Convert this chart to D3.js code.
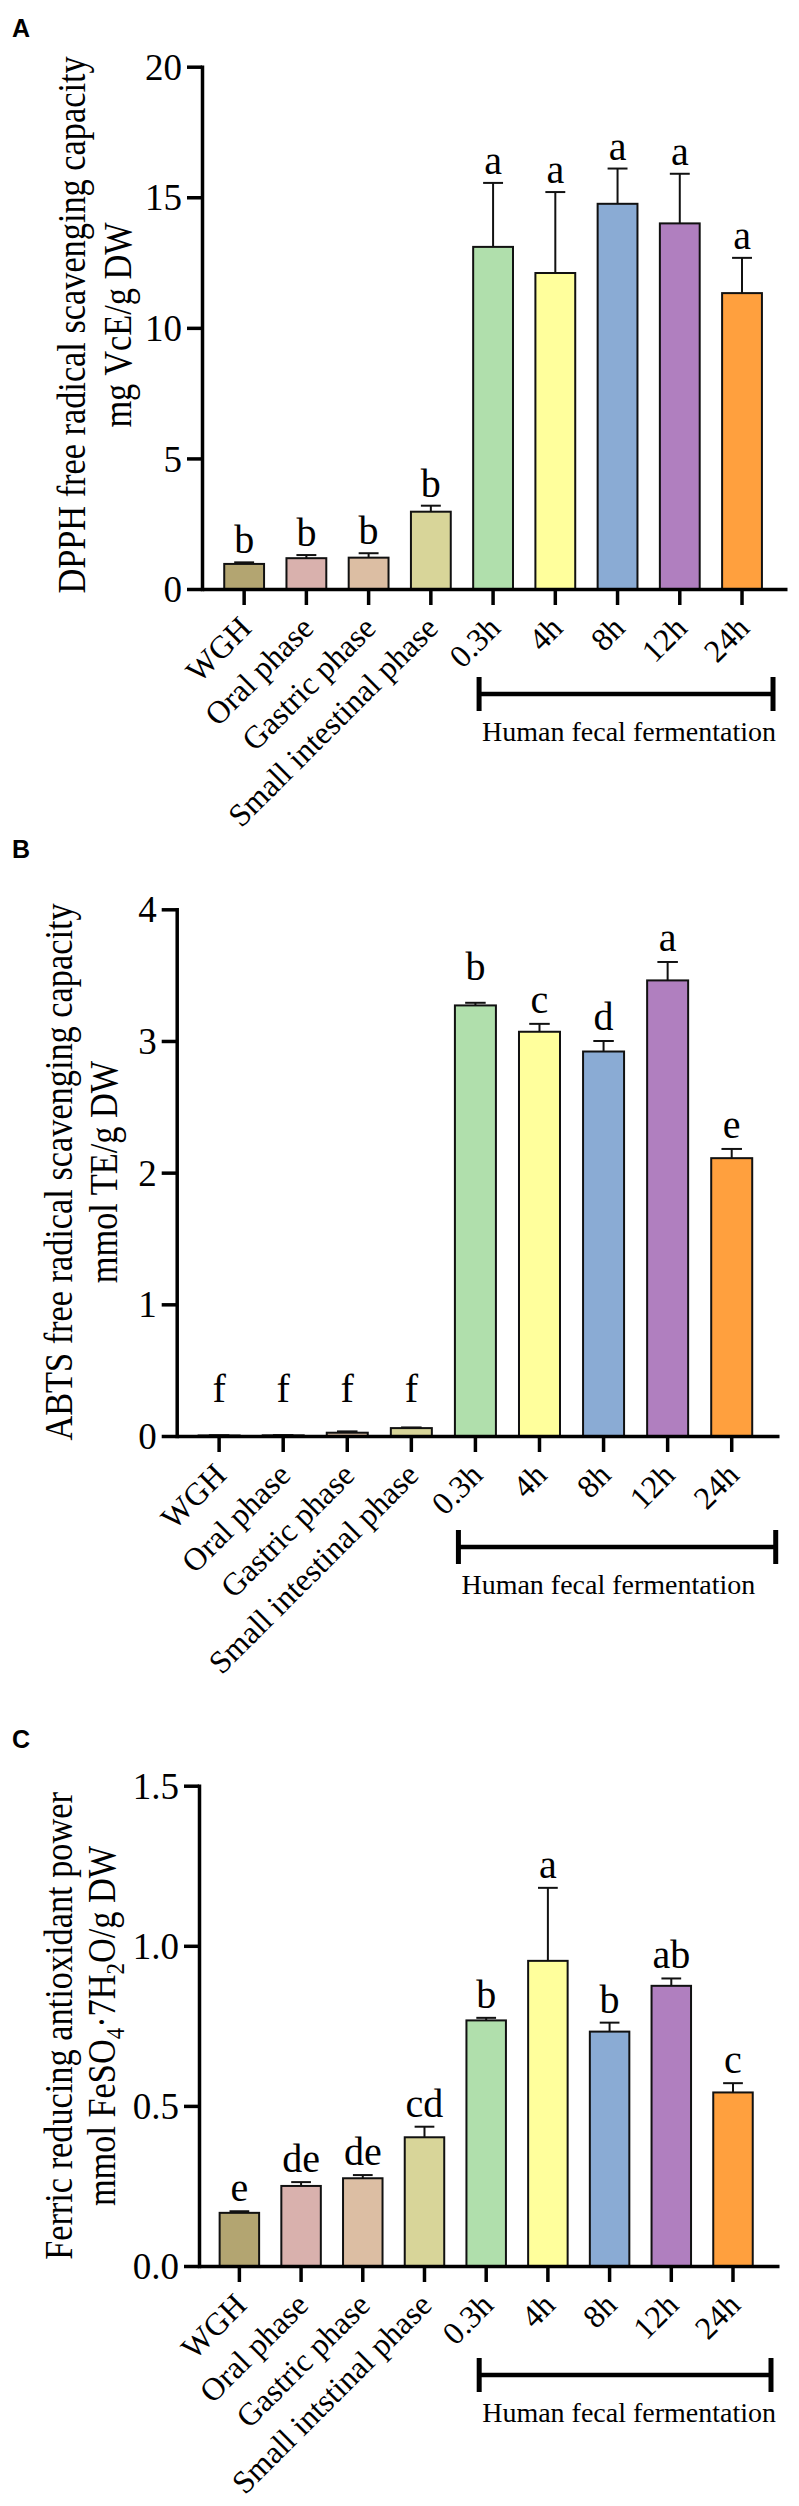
<!DOCTYPE html>
<html>
<head>
<meta charset="utf-8">
<script src="https://cdn.jsdelivr.net/npm/d3@7/dist/d3.min.js"></script>
<style>
  body { margin: 0; background: #fff; }
  svg { display: block; }
</style>
</head>
<body>
<div id="chart"></div>
<script>
// ---- data ----
const categories = ["WGH", "Oral phase", "Gastric phase", "Small intestinal phase", "0.3h", "4h", "8h", "12h", "24h"];
const categoriesC = ["WGH", "Oral phase", "Gastric phase", "Small intstinal phase", "0.3h", "4h", "8h", "12h", "24h"];
const barColors = ["#b3a571", "#d9b1ad", "#dcbea3", "#d8d599", "#b0dfac", "#ffff9c", "#8aabd4", "#b07fbf", "#ffa03e"];

const dpphMean = [0.96, 1.18, 1.2, 2.96, 13.1, 12.1, 14.75, 14.0, 11.33];
const dpphSd   = [0.06, 0.12, 0.17, 0.23, 2.45, 3.1, 1.35, 1.9, 1.35];
const dpphSig  = ["b", "b", "b", "b", "a", "a", "a", "a", "a"];
const dpphTicks = [0, 5, 10, 15, 20];

const abtsMean = [0.004, 0.005, 0.025, 0.06, 3.27, 3.07, 2.92, 3.46, 2.11];
const abtsSd   = [0.002, 0.002, 0.01, 0.005, 0.02, 0.06, 0.08, 0.14, 0.07];
const abtsSig  = ["f", "f", "f", "f", "b", "c", "d", "a", "e"];
const abtsTicks = [0, 1, 2, 3, 4];

const fraoMean = [0.166, 0.25, 0.274, 0.402, 0.767, 0.953, 0.732, 0.875, 0.542];
const fraoSd   = [0.005, 0.012, 0.01, 0.033, 0.008, 0.228, 0.028, 0.023, 0.029];
const fraoSig  = ["e", "de", "de", "cd", "b", "a", "b", "ab", "c"];
const fraoTicks = [0, 0.5, 1.0, 1.5];

const groupLabel = "Human fecal fermentation";

var serif = "'Liberation Serif', 'Times New Roman', serif";

var svg = d3.select("#chart").append("svg")
  .attr("width", 799)
  .attr("height", 2506);

var panels = [
  {
    letter: "A", letterY: 37,
    mean: dpphMean, sd: dpphSd, sig: dpphSig, labels: categories,
    domain: [0, 20], ticks: dpphTicks, fmt: d3.format("d"),
    title: [[{ t: "DPPH free radical scavenging capacity" }], [{ t: "mg VcE/g DW" }]],
    titleX: [85, 131], titleY: 325,
    axisX: 202, axisEnd: 787, y0: 589, yTop: 66.7, align: 0.47,
    gap: 9, floor: 0, lift: [0, 0, 0, 0, 0, 0, 0, 0, 0],
    bracket: { left: -14, right: 31, dy: 105 }
  },
  {
    letter: "B", letterY: 858,
    mean: abtsMean, sd: abtsSd, sig: abtsSig, labels: categories,
    domain: [0, 4], ticks: abtsTicks, fmt: d3.format("d"),
    title: [[{ t: "ABTS free radical scavenging capacity" }], [{ t: "mmol TE/g DW" }]],
    titleX: [72, 117], titleY: 1172,
    axisX: 176.7, axisEnd: 779, y0: 1436, yTop: 909.3, align: 0.45,
    gap: 11, floor: 34, lift: [0, 0, 0, 0, 12, 0, 0, 0, 0],
    bracket: { left: -17, right: 44, dy: 111 }
  },
  {
    letter: "C", letterY: 1748,
    mean: fraoMean, sd: fraoSd, sig: fraoSig, labels: categoriesC,
    domain: [0, 1.5], ticks: fraoTicks, fmt: d3.format(".1f"),
    title: [[{ t: "Ferric reducing antioxidant power" }],
            [{ t: "mmol FeSO" }, { t: "4", sub: true }, { t: "\u00b77H" }, { t: "2", sub: true }, { t: "O/g DW" }]],
    titleX: [72, 115], titleY: 2026,
    axisX: 199, axisEnd: 779, y0: 2266, yTop: 1785.7, align: 0.44,
    gap: 10, floor: 0, lift: [0, 0, 0, 0, 0, 0, 0, 0, 0],
    bracket: { left: -7, right: 38, dy: 109 }
  }
];

panels.forEach(drawPanel);

function drawPanel(p) {
  var g = svg.append("g");

  var x = d3.scaleBand()
    .domain(p.labels)
    .range([p.axisX, p.axisEnd])
    .paddingInner(0.36)
    .paddingOuter(0.38)
    .align(p.align);
  var bw = x.bandwidth();

  var y = d3.scaleLinear().domain(p.domain).range([p.y0, p.yTop]);

  var rows = p.labels.map(function (c, i) {
    return { cat: c, mean: p.mean[i], sd: p.sd[i], sig: p.sig[i], color: barColors[i], lift: p.lift[i] };
  });

  // bars
  g.selectAll("rect.bar").data(rows).enter().append("rect")
    .attr("class", "bar")
    .attr("x", function (d) { return x(d.cat); })
    .attr("width", bw)
    .attr("y", function (d) { return y(d.mean); })
    .attr("height", function (d) { return p.y0 - y(d.mean); })
    .attr("fill", function (d) { return d.color; })
    .attr("stroke", "#111")
    .attr("stroke-width", 2);

  // error bars (upper only)
  var err = g.selectAll("g.err").data(rows).enter().append("g")
    .attr("class", "err")
    .attr("transform", function (d) { return "translate(" + (x(d.cat) + bw / 2) + ",0)"; });
  err.append("line")
    .attr("y1", function (d) { return y(d.mean); })
    .attr("y2", function (d) { return y(d.mean + d.sd); })
    .attr("stroke", "#111").attr("stroke-width", 2);
  err.append("line")
    .attr("x1", -bw / 4).attr("x2", bw / 4)
    .attr("y1", function (d) { return y(d.mean + d.sd); })
    .attr("y2", function (d) { return y(d.mean + d.sd); })
    .attr("stroke", "#111").attr("stroke-width", 2);

  // significance letters
  g.selectAll("text.sig").data(rows).enter().append("text")
    .attr("class", "sig")
    .attr("x", function (d) { return x(d.cat) + bw / 2; })
    .attr("y", function (d) {
      var yy = y(d.mean + d.sd) - p.gap;
      if (p.floor) yy = Math.min(yy, p.y0 - p.floor);
      return yy - d.lift;
    })
    .attr("text-anchor", "middle")
    .attr("font-family", serif)
    .attr("font-size", "40px")
    .attr("fill", "#000")
    .text(function (d) { return d.sig; });

  // y axis
  var yAxis = d3.axisLeft(y)
    .tickValues(p.ticks)
    .tickFormat(p.fmt)
    .tickSize(15)
    .tickSizeOuter(0)
    .tickPadding(5);
  var ya = g.append("g")
    .attr("transform", "translate(" + p.axisX + ",0)")
    .call(yAxis);
  ya.select(".domain").attr("stroke", "#000").attr("stroke-width", 3.5).attr("stroke-linecap", "square");
  ya.selectAll(".tick line").attr("stroke", "#000").attr("stroke-width", 3.5);
  ya.selectAll(".tick text")
    .attr("font-family", serif)
    .attr("font-size", "37px")
    .attr("fill", "#000")
    .attr("dy", "0.34em");

  // x axis
  var xAxis = d3.axisBottom(x).tickSize(16).tickSizeOuter(0);
  var xa = g.append("g")
    .attr("transform", "translate(0," + p.y0 + ")")
    .call(xAxis);
  xa.select(".domain").attr("stroke", "#000").attr("stroke-width", 3.5);
  xa.selectAll(".tick line").attr("stroke", "#000").attr("stroke-width", 3.5);
  xa.selectAll(".tick text")
    .attr("font-family", serif)
    .attr("font-size", "32px")
    .attr("fill", "#000")
    .attr("text-anchor", "end")
    .attr("x", 0).attr("y", 0).attr("dy", 0)
    .attr("transform", "translate(9,41) rotate(-45)");

  // bracket for the fermentation group
  var bx0 = x("0.3h") + bw / 2 + p.bracket.left;
  var bx1 = x("24h") + bw / 2 + p.bracket.right;
  var by = p.y0 + p.bracket.dy;
  g.append("line")
    .attr("x1", bx0).attr("x2", bx1).attr("y1", by).attr("y2", by)
    .attr("stroke", "#000").attr("stroke-width", 4.5);
  [bx0, bx1].forEach(function (bx) {
    g.append("line")
      .attr("x1", bx).attr("x2", bx).attr("y1", by - 17).attr("y2", by + 17)
      .attr("stroke", "#000").attr("stroke-width", 5);
  });
  g.append("text")
    .attr("x", bx0 + 3)
    .attr("y", by + 47)
    .attr("font-family", serif)
    .attr("font-size", "28px")
    .attr("fill", "#000")
    .text(groupLabel);

  // y title, two lines
  p.title.forEach(function (segs, li) {
    var t = g.append("text")
      .attr("transform", "translate(" + p.titleX[li] + "," + p.titleY + ") rotate(-90) scale(0.88,1)")
      .attr("text-anchor", "middle")
      .attr("font-family", serif)
      .attr("font-size", "39px")
      .attr("fill", "#000");
    segs.forEach(function (s, si) {
      var ts = t.append("tspan").text(s.t);
      if (s.sub) {
        ts.attr("font-size", "26px").attr("dy", 9);
      } else if (si > 0 && segs[si - 1].sub) {
        ts.attr("dy", -9);
      }
    });
  });

  // panel letter
  g.append("text")
    .attr("x", 12)
    .attr("y", p.letterY)
    .attr("font-family", "'Liberation Sans', Arial, sans-serif")
    .attr("font-weight", "bold")
    .attr("font-size", "25px")
    .attr("fill", "#000")
    .text(p.letter);
}
</script>
</body>
</html>
